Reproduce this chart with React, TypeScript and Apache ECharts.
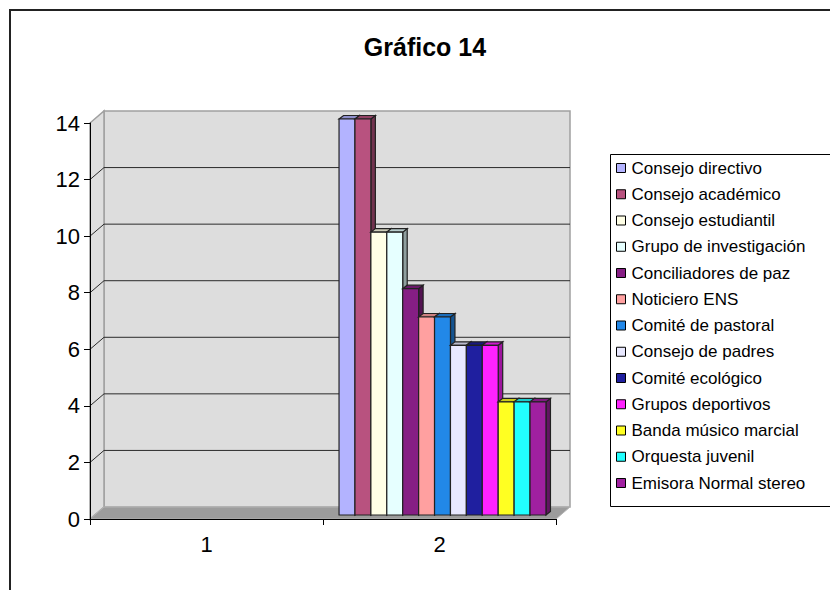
import React, { useEffect, useRef } from "react";
import * as echarts from "echarts";

const FONT = '"Liberation Sans", Arial, sans-serif';

const titleText = "Gráfico 14";
const categories = ["1", "2"];
const seriesNames = [
  "Consejo directivo",
  "Consejo académico",
  "Consejo estudiantil",
  "Grupo de investigación",
  "Conciliadores de paz",
  "Noticiero ENS",
  "Comité de pastoral",
  "Consejo de padres",
  "Comité ecológico",
  "Grupos deportivos",
  "Banda músico marcial",
  "Orquesta juvenil",
  "Emisora Normal stereo",
];
const valuesCat1 = [0, 0, 0, 0, 0, 0, 0, 0, 0, 0, 0, 0, 0];
const valuesCat2 = [14, 14, 10, 10, 8, 7, 7, 6, 6, 6, 4, 4, 4];
const seriesColors = [
  "#B3B3FF",
  "#B8527F",
  "#FFFFE6",
  "#E6FFFF",
  "#861E84",
  "#FFA0A0",
  "#2288E8",
  "#E8E8FF",
  "#1F1F9F",
  "#FF22FF",
  "#FFFF22",
  "#22FFFF",
  "#A020A0",
];
const yMin = 0;
const yMax = 14;
const yStep = 2;

// 3D geometry (pixels)
const DX = 14;
const DY = -12;
const BAR_DX = 4.5;
const BAR_DY = -3.5;
const BAR_SHIFT_X = 3;
const BAR_SHIFT_Y = -4;

function shade(hex: string, f: number): string {
  const h = hex.replace("#", "");
  const r = Math.round(parseInt(h.slice(0, 2), 16) * f);
  const g = Math.round(parseInt(h.slice(2, 4), 16) * f);
  const b = Math.round(parseInt(h.slice(4, 6), 16) * f);
  const c = (v: number) => Math.max(0, Math.min(255, v)).toString(16).padStart(2, "0");
  return "#" + c(r) + c(g) + c(b);
}

export default function App() {
  const ref = useRef<HTMLDivElement>(null);

  useEffect(() => {
    if (!ref.current) return;
    const chart = echarts.init(ref.current, null, { renderer: "svg" });
    const n = seriesNames.length;

    const wallSeries: any = {
      type: "custom",
      name: "__walls",
      silent: true,
      z: 1,
      clip: false,
      data: [[0, 0]],
      renderItem: (params: any, api: any) => {
        const cs = params.coordSys;
        const L = cs.x;
        const R = cs.x + cs.width;
        const T = cs.y;
        const B = cs.y + cs.height;
        const children: any[] = [];
        children.push({
          type: "polygon",
          shape: { points: [[L + DX, T + DY], [R + DX, T + DY], [R + DX, B + DY], [L + DX, B + DY]] },
          style: { fill: "#DDDDDD", stroke: "#A0A0A0", lineWidth: 1.5 },
        });
        children.push({
          type: "polygon",
          shape: { points: [[L, B], [L, T], [L + DX, T + DY], [L + DX, B + DY]] },
          style: { fill: "#DEDEDE", stroke: "#A0A0A0", lineWidth: 1.5 },
        });
        children.push({
          type: "polygon",
          shape: { points: [[L, B], [R, B], [R + DX, B + DY], [L + DX, B + DY]] },
          style: { fill: "#9C9C9C", stroke: "#B4B4B4", lineWidth: 1 },
        });
        for (let v = yMin + yStep; v < yMax; v += yStep) {
          const y = api.coord([0, v])[1];
          children.push({
            type: "polyline",
            shape: { points: [[L, y], [L + DX, y + DY], [R + DX, y + DY]] },
            style: { fill: "none", stroke: "#2A2A2A", lineWidth: 1 },
          });
        }
        return { type: "group", children };
      },
    };

    const barSeries: any[] = seriesNames.map((name, i) => ({
      type: "custom",
      name,
      z: 2,
      clip: false,
      itemStyle: { color: seriesColors[i] },
      data: categories.map((_, ci) => [ci, (ci === 0 ? valuesCat1 : valuesCat2)[i]]),
      renderItem: (params: any, api: any) => {
        const cat = api.value(0);
        const val = api.value(1);
        if (!val) return { type: "group", children: [] };
        const base = api.coord([cat, 0]);
        const top = api.coord([cat, val]);
        const band = api.size([1, 0])[0];
        const w = (band * 0.888) / n;
        const x0 = base[0] - (w * n) / 2 + BAR_SHIFT_X + i * w;
        const x1 = x0 + w;
        const yb = base[1] + BAR_SHIFT_Y;
        const yt = top[1] + BAR_SHIFT_Y;
        const col = seriesColors[i];
        const stroke = "#222222";
        const lw = 1.2;
        return {
          type: "group",
          children: [
            {
              type: "polygon",
              shape: { points: [[x1, yt], [x1 + BAR_DX, yt + BAR_DY], [x1 + BAR_DX, yb + BAR_DY], [x1, yb]] },
              style: { fill: shade(col, 0.62), stroke, lineWidth: lw },
            },
            {
              type: "polygon",
              shape: { points: [[x0, yt], [x1, yt], [x1 + BAR_DX, yt + BAR_DY], [x0 + BAR_DX, yt + BAR_DY]] },
              style: { fill: shade(col, 0.8), stroke, lineWidth: lw },
            },
            {
              type: "rect",
              shape: { x: x0, y: yt, width: w, height: yb - yt },
              style: { fill: col, stroke, lineWidth: lw },
            },
          ],
        };
      },
    }));

    chart.setOption({
      animation: false,
      grid: { left: 90, right: 274, top: 123, bottom: 71, containLabel: false },
      xAxis: {
        type: "category",
        data: categories,
        z: 5,
        boundaryGap: true,
        axisLine: { show: true, lineStyle: { color: "#000", width: 1 } },
        axisTick: { show: true, alignWithLabel: false, length: 6, lineStyle: { color: "#000" } },
        axisLabel: { fontSize: 22, color: "#000", fontFamily: FONT, margin: 14 },
        splitLine: { show: false },
      },
      yAxis: {
        type: "value",
        min: yMin,
        max: yMax,
        interval: yStep,
        z: 5,
        axisLine: { show: true, lineStyle: { color: "#000", width: 1 } },
        axisTick: { show: true, length: 6, lineStyle: { color: "#000" } },
        axisLabel: { fontSize: 22, color: "#000", fontFamily: FONT, margin: 10 },
        splitLine: { show: false },
      },
      legend: {
        data: seriesNames.map((name) => ({ name, icon: "rect" })),
        orient: "vertical",
        left: 616,
        top: 159.5,
        padding: 0,
        itemWidth: 9,
        itemHeight: 9,
        itemGap: 9.25,
        selectedMode: false,
        itemStyle: { borderColor: "#000", borderWidth: 1 },
        textStyle: { fontSize: 17, lineHeight: 17, color: "#000", fontFamily: FONT, padding: [0, 0, 0, 1] },
      },
      graphic: [
        {
          type: "rect",
          silent: true,
          z: 100,
          shape: { x: 10, y: 10, width: 840, height: 600 },
          style: { fill: "none", stroke: "#222", lineWidth: 2 },
        },
        {
          type: "rect",
          silent: true,
          z: 100,
          shape: { x: 610.5, y: 154.5, width: 222, height: 352 },
          style: { fill: "none", stroke: "#000", lineWidth: 1 },
        },
        {
          type: "text",
          silent: true,
          z: 100,
          x: 425,
          y: 47,
          style: {
            text: titleText,
            fontSize: 25,
            fontWeight: "bold",
            fontFamily: FONT,
            fill: "#000",
            align: "center",
            verticalAlign: "middle",
          },
        },
      ],
      series: [wallSeries, ...barSeries],
    });

    return () => chart.dispose();
  }, []);

  return (
    <div
      ref={ref}
      style={{ position: "fixed", left: 0, top: 0, width: 830, height: 590, background: "#fff" }}
    />
  );
}
